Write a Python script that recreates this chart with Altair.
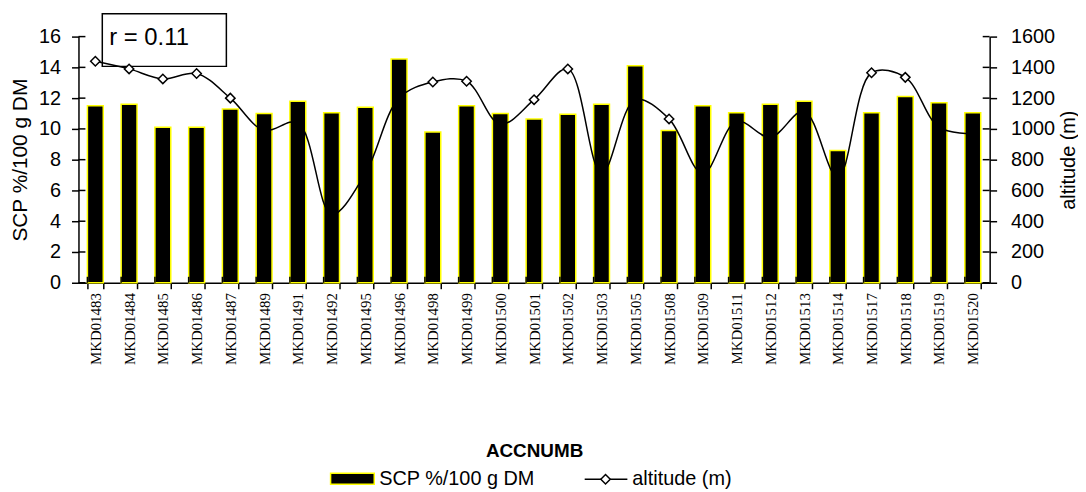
import altair as alt
import pandas as pd

categories = ["MKD01483", "MKD01484", "MKD01485", "MKD01486", "MKD01487", "MKD01489",
              "MKD01491", "MKD01492", "MKD01495", "MKD01496", "MKD01498", "MKD01499",
              "MKD01500", "MKD01501", "MKD01502", "MKD01503", "MKD01505", "MKD01508",
              "MKD01509", "MKD01511", "MKD01512", "MKD01513", "MKD01514", "MKD01517",
              "MKD01518", "MKD01519", "MKD01520"]
scp = [11.5, 11.6, 10.1, 10.1, 11.3, 11.0, 11.8, 11.05, 11.4, 14.55, 9.8, 11.5,
       11.0, 10.65, 10.95, 11.6, 14.1, 9.9, 11.5, 11.05, 11.6, 11.8, 8.6, 11.05,
       12.1, 11.7, 11.05]
altitude = [1440, 1390, 1325, 1360, 1200, 990, 1040, 445, 710, 1200, 1305, 1310,
            1030, 1190, 1390, 710, 1190, 1065, 710, 1050, 945, 1115, 685, 1365,
            1335, 1010, 970]
left_ticks = [0, 2, 4, 6, 8, 10, 12, 14, 16]
right_ticks = [0, 200, 400, 600, 800, 1000, 1200, 1400, 1600]
bar_label = "SCP %/100 g DM"
line_label = "altitude (m)"
x_title = "ACCNUMB"
r_label = "r = 0.11"

df = pd.DataFrame({"cat": categories, "scp": scp, "alt": altitude})
one = pd.DataFrame({"k": [0]})

FONT = "Liberation Sans"
xscale = alt.Scale(domain=categories, paddingInner=0.53, paddingOuter=0.265)

xaxis = alt.Axis(title=x_title, labelAngle=270, labelFont="Liberation Serif",
                 labelFontSize=15, labelPadding=4, tickSize=6, tickBand="extent",
                 titleFontSize=19, titleFontWeight="bold", titleY=169,
                 titleBaseline="middle")
yleft_axis = alt.Axis(values=left_ticks, title=bar_label, orient="left", tickSize=7,
                      labelPadding=11, titlePadding=8, grid=False,
                      labelFontSize=20, titleFontSize=21)
yright_axis = alt.Axis(values=right_ticks, title=line_label, orient="right", format="d",
                       tickSize=7, labelPadding=14, grid=False, labelFontSize=20,
                       titleFontSize=20, titleAngle=270, titleX=69, titleY=124,
                       titleAlign="center", titleBaseline="top")

bars = alt.Chart(df).mark_bar(color="black", stroke="#ffff00", strokeWidth=1.5).encode(
    x=alt.X("cat:N", sort=categories, scale=xscale, axis=xaxis),
    y=alt.Y("scp:Q", scale=alt.Scale(domain=[0, 16], nice=False), axis=yleft_axis),
)

left_inner = alt.Chart(pd.DataFrame({"scp": left_ticks})).mark_rule(
    color="black", strokeWidth=1.5).encode(
    y=alt.Y("scp:Q", axis=yleft_axis), x=alt.value(0), x2=alt.value(7))

x_inner = alt.Chart(pd.DataFrame({"cat": categories})).mark_rule(
    color="black", strokeWidth=1.5).encode(
    x=alt.X("cat:N", sort=categories, bandPosition=0, axis=xaxis),
    y=alt.value(242), y2=alt.value(248))

box = alt.Chart(one).mark_rect(fill="white", stroke="black", strokeWidth=1.5).encode(
    x=alt.value(24), x2=alt.value(149), y=alt.value(-23), y2=alt.value(30))
rtext = alt.Chart(one).mark_text(align="left", baseline="alphabetic", fontSize=24,
                                 font=FONT, color="black").encode(
    x=alt.value(31), y=alt.value(8), text=alt.value(r_label))

leg_rect = alt.Chart(one).mark_rect(fill="black", stroke="#ffff00", strokeWidth=1.5).encode(
    x=alt.value(254), x2=alt.value(298), y=alt.value(440), y2=alt.value(451))
leg_text1 = alt.Chart(one).mark_text(align="left", baseline="middle", fontSize=20,
                                     font=FONT, color="black").encode(
    x=alt.value(303), y=alt.value(446), text=alt.value(bar_label))
leg_line = alt.Chart(one).mark_rule(color="black", strokeWidth=1.5).encode(
    x=alt.value(510), x2=alt.value(553), y=alt.value(446))
leg_pt = alt.Chart(one).mark_point(shape="diamond", size=90, filled=True, fill="white",
                                   stroke="black", strokeWidth=1.5, opacity=1).encode(
    x=alt.value(531), y=alt.value(446))
leg_text2 = alt.Chart(one).mark_text(align="left", baseline="middle", fontSize=20,
                                     font=FONT, color="black").encode(
    x=alt.value(558), y=alt.value(446), text=alt.value(line_label))

line = alt.Chart(df).mark_line(interpolate="catmull-rom", color="black", strokeWidth=1.5).encode(
    x=alt.X("cat:N", sort=categories, axis=xaxis),
    y=alt.Y("alt:Q", scale=alt.Scale(domain=[0, 1600], nice=False), axis=yright_axis))

points = alt.Chart(df).mark_point(shape="diamond", size=90, filled=True,
                                  strokeWidth=1.5, opacity=1).encode(
    x=alt.X("cat:N", sort=categories, axis=xaxis),
    y=alt.Y("alt:Q", axis=yright_axis),
    fill=alt.condition("datum.alt / 100 > datum.scp", alt.value("white"), alt.value("transparent")),
    stroke=alt.value("black"))

right_inner = alt.Chart(pd.DataFrame({"alt": right_ticks})).mark_rule(
    color="black", strokeWidth=1.5).encode(
    y=alt.Y("alt:Q", axis=yright_axis), x=alt.value(911), x2=alt.value(918))

layer_a = alt.layer(box, bars, left_inner, x_inner, rtext, leg_rect, leg_text1,
                    leg_line, leg_pt, leg_text2)
layer_b = alt.layer(line, points, right_inner)

chart = alt.layer(layer_a, layer_b).resolve_scale(y="independent").properties(
    width=918, height=248,
    padding={"left": 71, "top": 27, "right": 89, "bottom": 209},
    autosize=alt.AutoSizeParams(type="none"),
).configure_view(stroke=None).configure_axis(
    labelFont=FONT, titleFont=FONT, labelColor="black", titleColor="black",
    domainColor="black", tickColor="black", domainWidth=1.5, tickWidth=1.5,
    titleFontWeight="normal",
)

chart.save("out.html", embed_options={"renderer": "svg", "actions": False})
